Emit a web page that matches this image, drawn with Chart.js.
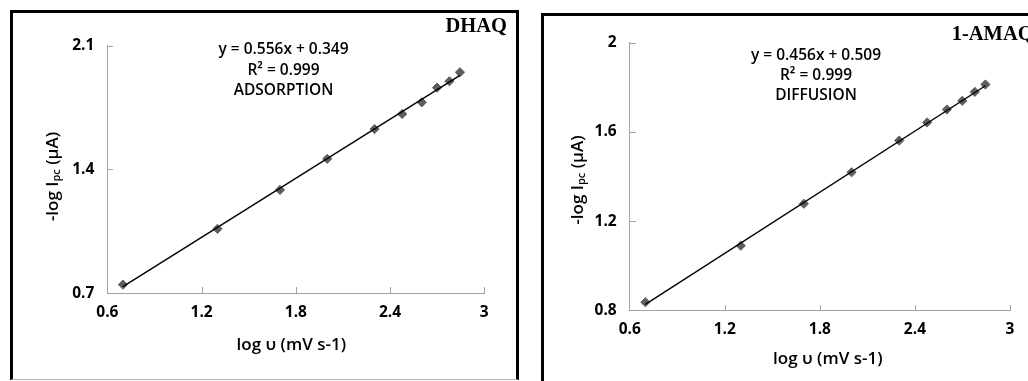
<!DOCTYPE html>
<html>
<head>
<meta charset="utf-8">
<script src="https://cdn.jsdelivr.net/npm/chart.js@4.4.1/dist/chart.umd.min.js"></script>
<style>
  html, body { margin: 0; padding: 0; background: #fff; }
  body { width: 1028px; height: 381px; position: relative; overflow: hidden; }
  canvas { position: absolute; top: 0; }
  .frame { position: absolute; box-sizing: border-box; border: 3px solid #000; z-index: 2; }
  #frameL { left: 10px; top: 10px; width: 509px; height: 370px; border-bottom: 1px solid #b4b4b4; }
  #frameR { left: 541px; top: 13px; width: 600px; height: 500px; }
</style>
</head>
<body>
<canvas id="chartDhaq"></canvas>
<canvas id="chartAmaq"></canvas>
<div class="frame" id="frameL"></div>
<div class="frame" id="frameR"></div>
<script>
// log of scan rate (mV s-1), shared by both compounds
const logScanRate = [0.699, 1.301, 1.699, 2.000, 2.301, 2.477, 2.602, 2.699, 2.778, 2.845];

// DHAQ: -log Ipc (µA) and its linear fit
const dhaqLogIpc = [0.749, 1.064, 1.284, 1.460, 1.628, 1.713, 1.779, 1.862, 1.898, 1.949];
const dhaqSlope = 0.556;
const dhaqIntercept = 0.349;
const dhaqR2 = 0.999;

// 1-AMAQ: -log Ipc (µA) and its linear fit
const amaqLogIpc = [0.837, 1.090, 1.278, 1.419, 1.561, 1.642, 1.700, 1.739, 1.779, 1.812];
const amaqSlope = 0.456;
const amaqIntercept = 0.509;
const amaqR2 = 0.999;

// axis ticks
const xTickValues = [0.6, 1.2, 1.8, 2.4, 3.0];
const xTickLabels = ['0.6', '1.2', '1.8', '2.4', '3'];
const dhaqYTickValues = [0.7, 1.4, 2.1];
const dhaqYTickLabels = ['0.7', '1.4', '2.1'];
const amaqYTickValues = [0.8, 1.2, 1.6, 2.0];
const amaqYTickLabels = ['0.8', '1.2', '1.6', '2'];

const PAGE_H = 381;
const AXIS_COLOR = '#a4a4a4';
const MARK_COLOR = '#5e5e5e';
const TICK_LEN = 6;
const FONT = "'Open Sans', 'DejaVu Sans', sans-serif";

// Draws inward tick marks, axis titles, fit equation and compound name
function panelDecor(p) {
  return {
    id: 'panelDecor',
    afterDraw(chart) {
      const ctx = chart.ctx;
      const xs = chart.scales.x, ys = chart.scales.y, area = chart.chartArea;
      const ox = p.x;
      ctx.save();

      ctx.strokeStyle = AXIS_COLOR;
      ctx.lineWidth = 1;
      ctx.beginPath();
      xs.ticks.forEach(t => {
        if (t.value === xs.min) return;
        const px = Math.round(xs.getPixelForValue(t.value)) + 0.5;
        ctx.moveTo(px, Math.round(area.bottom));
        ctx.lineTo(px, Math.round(area.bottom) - TICK_LEN);
      });
      ys.ticks.forEach(t => {
        if (t.value === ys.min) return;
        const py = Math.round(ys.getPixelForValue(t.value)) + 0.5;
        ctx.moveTo(Math.round(area.left), py);
        ctx.lineTo(Math.round(area.left) + TICK_LEN, py);
      });
      ctx.stroke();

      ctx.fillStyle = '#000';

      // x axis title
      ctx.font = '600 17px ' + FONT;
      ctx.textAlign = 'center';
      ctx.textBaseline = 'alphabetic';
      ctx.fillText('log \u03C5 (mV s-1)', p.xTitle[0] - ox, p.xTitle[1]);

      // y axis title with subscript
      const parts = [
        ['-log I', '600 17px ' + FONT, 0],
        ['pc', '600 11px ' + FONT, 4],
        [' (\u00B5A)', '600 17px ' + FONT, 0]
      ];
      let total = 0;
      parts.forEach(pt => { ctx.font = pt[1]; pt.push(ctx.measureText(pt[0]).width); total += pt[3]; });
      ctx.translate(p.yTitle[0] - ox, p.yTitle[1]);
      ctx.rotate(-Math.PI / 2);
      ctx.textAlign = 'left';
      ctx.textBaseline = 'middle';
      let cx = -total / 2;
      parts.forEach(pt => {
        ctx.font = pt[1];
        ctx.fillText(pt[0], cx, pt[2]);
        cx += pt[3];
      });
      ctx.setTransform(1, 0, 0, 1, 0, 0);

      // fit equation block
      ctx.font = '600 15.5px ' + FONT;
      ctx.textAlign = 'center';
      ctx.textBaseline = 'alphabetic';
      const lines = [
        'y = ' + p.slope.toFixed(3) + 'x + ' + p.intercept.toFixed(3),
        'R\u00B2 = ' + p.r2.toFixed(3),
        p.mechanism
      ];
      lines.forEach((s, i) => ctx.fillText(s, p.eqX - ox, p.eqY[i]));

      // compound name
      ctx.font = "bold 20.5px 'Liberation Serif', 'DejaVu Serif', serif";
      ctx.textAlign = 'left';
      ctx.fillText(p.name, p.nameXY[0] - ox, p.nameXY[1]);

      ctx.restore();
    }
  };
}

function buildPanel(p) {
  const canvas = document.getElementById(p.id);
  canvas.width = p.w;
  canvas.height = PAGE_H;
  canvas.style.left = p.x + 'px';
  canvas.style.width = p.w + 'px';
  canvas.style.height = PAGE_H + 'px';

  const aLeft = p.area.left - p.x;
  const aRight = p.area.right - p.x;

  const points = logScanRate.map((x, i) => ({ x: x, y: p.values[i] }));
  const x0 = Math.min(...logScanRate), x1 = Math.max(...logScanRate);
  const trend = [x0, x1].map(x => ({ x: x, y: p.slope * x + p.intercept }));

  const tickFont = { family: FONT, size: 15.5, weight: 'bold' };

  new Chart(canvas, {
    type: 'scatter',
    data: {
      datasets: [
        { data: trend, showLine: true, borderColor: '#000', borderWidth: 1.4, pointRadius: 0, fill: false },
        { data: points, showLine: false, pointStyle: 'rectRot', pointRadius: 4.6,
          backgroundColor: MARK_COLOR, borderColor: MARK_COLOR, borderWidth: 1 }
      ]
    },
    options: {
      responsive: false,
      animation: false,
      devicePixelRatio: 1,
      events: [],
      layout: { padding: { left: 0, top: p.area.top, right: p.w - aRight, bottom: 0 } },
      plugins: { legend: { display: false }, tooltip: { enabled: false } },
      scales: {
        x: {
          type: 'linear', position: 'bottom',
          min: xTickValues[0], max: xTickValues[xTickValues.length - 1],
          afterBuildTicks: s => { s.ticks = xTickValues.map(v => ({ value: v })); },
          afterFit: s => { s.height = PAGE_H - p.area.bottom; },
          grid: { display: false, drawTicks: false },
          border: { display: true, color: AXIS_COLOR, width: 1 },
          ticks: { autoSkip: false, maxRotation: 0, minRotation: 0, padding: 10,
                   color: '#000', font: tickFont, callback: (v, i) => xTickLabels[i] }
        },
        y: {
          type: 'linear', position: 'left',
          min: p.yTicks[0], max: p.yTicks[p.yTicks.length - 1],
          afterBuildTicks: s => { s.ticks = p.yTicks.map(v => ({ value: v })); },
          afterFit: s => { s.width = aLeft; },
          grid: { display: false, drawTicks: false },
          border: { display: true, color: AXIS_COLOR, width: 1 },
          ticks: { autoSkip: false, padding: 13, color: '#000', font: tickFont,
                   callback: (v, i) => p.yLabels[i] }
        }
      }
    },
    plugins: [panelDecor(p)]
  });
}

buildPanel({
  id: 'chartDhaq', x: 0, w: 520,
  area: { left: 107.4, right: 484.3, top: 45.5, bottom: 293.3 },
  values: dhaqLogIpc, slope: dhaqSlope, intercept: dhaqIntercept, r2: dhaqR2,
  yTicks: dhaqYTickValues, yLabels: dhaqYTickLabels,
  mechanism: 'ADSORPTION', name: 'DHAQ', nameXY: [445.5, 31.5],
  eqX: 283.5, eqY: [53.5, 74.5, 94.5],
  xTitle: [291.3, 350], yTitle: [53.3, 176.5]
});

buildPanel({
  id: 'chartAmaq', x: 520, w: 508,
  area: { left: 629.7, right: 1010, top: 42.5, bottom: 310.5 },
  values: amaqLogIpc, slope: amaqSlope, intercept: amaqIntercept, r2: amaqR2,
  yTicks: amaqYTickValues, yLabels: amaqYTickLabels,
  mechanism: 'DIFFUSION', name: '1-AMAQ', nameXY: [951.7, 39.5],
  eqX: 816, eqY: [59.5, 80, 100],
  xTitle: [827.8, 364], yTitle: [578, 180]
});
</script>
</body>
</html>
